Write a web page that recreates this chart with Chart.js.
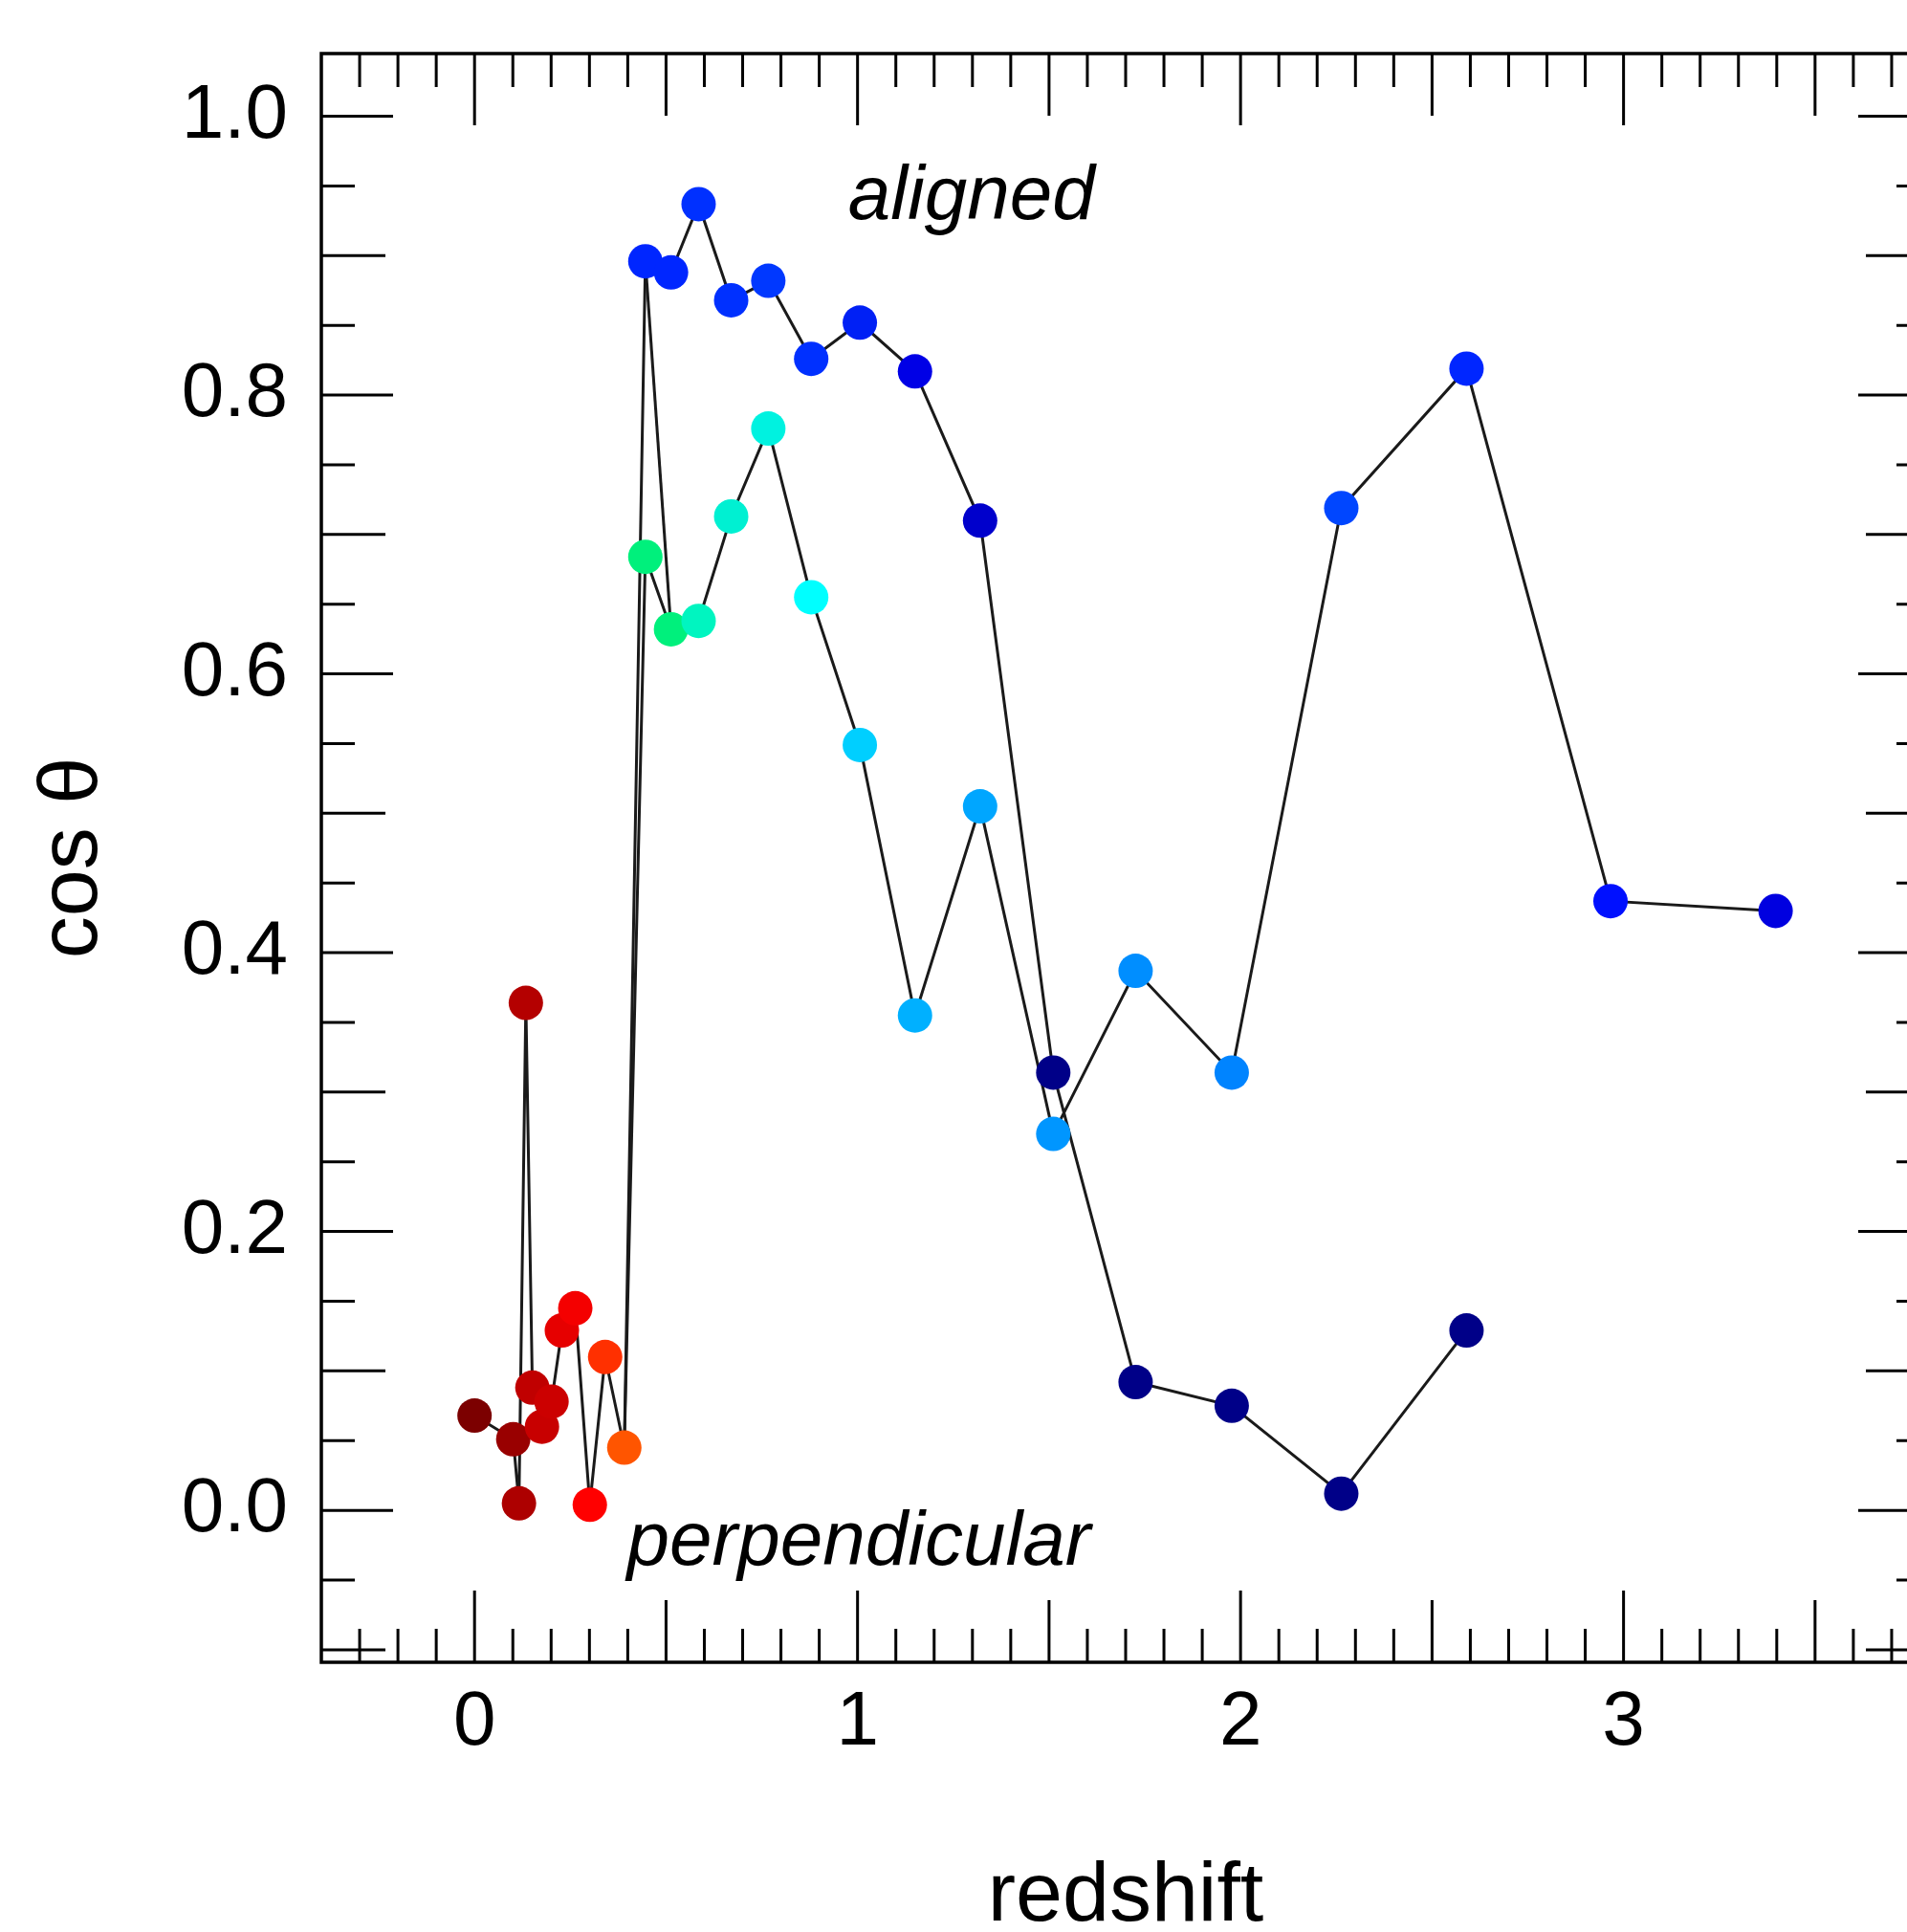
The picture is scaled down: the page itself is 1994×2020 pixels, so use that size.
<!DOCTYPE html>
<html lang="en">
<head>
    <meta charset="UTF-8">
    <title>cos theta vs redshift</title>
    <style>
        html, body { margin: 0; padding: 0; background: #fff; overflow: hidden; }
        #chart { display: block; }
    </style>
</head>
<body>
    <canvas id="chart" width="2040" height="2060"></canvas>

    <script src="https://cdn.jsdelivr.net/npm/chart.js"></script>
    <script>
        // single track at low redshift, before it splits in two
        const zMerged = [0.0, 0.101, 0.116, 0.134, 0.151, 0.176, 0.201, 0.228, 0.263, 0.301, 0.341, 0.391];
        const cosMerged = [0.068, 0.051, 0.005, 0.364, 0.088, 0.060, 0.078, 0.129, 0.145, 0.004, 0.110, 0.045];

        // the two branches share the same redshifts
        const zBranch = [0.446, 0.513, 0.585, 0.670, 0.767, 0.879, 1.006, 1.150, 1.320, 1.511, 1.726, 1.977, 2.263, 2.590, 2.966, 3.397];
        const cosLower = [0.684, 0.632, 0.638, 0.713, 0.776, 0.655, 0.549, 0.355, 0.505, 0.270, 0.387, 0.314, 0.719, 0.819, 0.437, 0.430];
        const cosUpper = [0.896, 0.888, 0.937, 0.868, 0.882, 0.826, 0.852, 0.817, 0.710, 0.314, 0.092, 0.075, 0.012, 0.129];

        const colMerged = ['#7c0000', '#990000', '#ad0000', '#b40000', '#c00000', '#c80000', '#cc0000', '#e60000', '#f40000', '#ff0000', '#ff3000', '#ff5500'];
        const colLower = ['#00f07c', '#00f07c', '#00f5c0', '#00f0d2', '#00f2e0', '#00ffff', '#00cfff', '#00b0ff', '#00a6ff', '#0096ff', '#008eff', '#0084ff', '#0046ff', '#0026ff', '#0010ff', '#0000e0'];
        const colUpper = ['#0026ff', '#0026ff', '#0030ff', '#0030ff', '#0038ff', '#0030ff', '#0020f5', '#0000e6', '#0000cc', '#000088', '#000088', '#000088', '#000088', '#000088'];

        const xTicks = [0, 1, 2, 3];
        const yTicks = [0.0, 0.2, 0.4, 0.6, 0.8, 1.0];

        const FONT = '"Liberation Sans", Arial, Helvetica, sans-serif';
        Chart.defaults.font.family = FONT;
        Chart.defaults.color = '#000';

        const merged = zMerged.map((z, i) => ({x: z, y: cosMerged[i]}));
        const lower = zBranch.map((z, i) => ({x: z, y: cosLower[i]}));
        const upper = cosUpper.map((c, i) => ({x: zBranch[i], y: c}));
        const split = merged[merged.length - 1];

        const lineStyle = {showLine: true, pointRadius: 0, borderColor: '#1a1a1a', borderWidth: 3, order: 10};
        const dotStyle = {showLine: false, pointRadius: 18, pointBorderWidth: 0};

        // inward ticks on all four sides, plus the frame and the two labels
        const frameTicks = {
            id: 'frameTicks',
            beforeDatasetsDraw(chart) {
                const {ctx, chartArea: a, scales: {x, y}} = chart;
                ctx.save();
                ctx.strokeStyle = '#000';
                ctx.lineWidth = 3.5;
                ctx.strokeRect(a.left, a.top, a.right - a.left, a.bottom - a.top);
                ctx.lineWidth = 3;
                ctx.beginPath();
                for (let i = Math.ceil(x.min * 10 + 1e-6); i <= Math.floor(x.max * 10 - 1e-6); i++) {
                    const px = x.getPixelForValue(i / 10);
                    const len = i % 10 === 0 ? 75 : (i % 5 === 0 ? 65 : 35);
                    ctx.moveTo(px, a.bottom); ctx.lineTo(px, a.bottom - len);
                    ctx.moveTo(px, a.top); ctx.lineTo(px, a.top + len);
                }
                for (let j = Math.ceil(y.min * 20 + 1e-6); j <= Math.floor(y.max * 20 - 1e-6); j++) {
                    const py = y.getPixelForValue(j / 20);
                    const len = j % 4 === 0 ? 75 : (j % 2 === 0 ? 67 : 35);
                    ctx.moveTo(a.left, py); ctx.lineTo(a.left + len, py);
                    ctx.moveTo(a.right, py); ctx.lineTo(a.right - len, py);
                }
                ctx.stroke();
                ctx.restore();
            },
            afterDatasetsDraw(chart) {
                const {ctx, scales: {x, y}} = chart;
                ctx.save();
                ctx.fillStyle = '#000';
                ctx.font = 'italic 80px ' + FONT;
                ctx.textAlign = 'left';
                ctx.textBaseline = 'alphabetic';
                ctx.fillText('aligned', x.getPixelForValue(0.975), y.getPixelForValue(0.926));
                ctx.fillText('perpendicular', x.getPixelForValue(0.398), y.getPixelForValue(-0.039));
                ctx.restore();
            }
        };

        new Chart(document.getElementById('chart'), {
            type: 'scatter',
            data: {
                datasets: [
                    {...lineStyle, data: merged},
                    {...lineStyle, data: [split, ...lower]},
                    {...lineStyle, data: [split, ...upper]},
                    {...lineStyle, data: [upper[0], lower[1]]},
                    {...dotStyle, data: merged, pointBackgroundColor: colMerged, order: 4},
                    {...dotStyle, data: lower, pointBackgroundColor: colLower, order: 3},
                    {...dotStyle, data: upper, pointBackgroundColor: colUpper, order: 2}
                ]
            },
            options: {
                responsive: false,
                animation: false,
                events: [],
                layout: {padding: {left: 0, top: 56, right: 22, bottom: 0}},
                plugins: {legend: {display: false}, tooltip: {enabled: false}},
                scales: {
                    x: {
                        type: 'linear',
                        min: -0.4,
                        max: 3.8,
                        grid: {display: false, drawTicks: false},
                        border: {display: false},
                        afterBuildTicks: s => { s.ticks = xTicks.map(v => ({value: v})); },
                        afterFit: s => { s.height = 322; s.paddingLeft = 0; s.paddingRight = 0; },
                        ticks: {font: {size: 80}, padding: 16, maxRotation: 0, callback: v => String(v)},
                        title: {display: true, text: 'redshift', font: {size: 88}, padding: {top: 0, bottom: 23}}
                    },
                    y: {
                        type: 'linear',
                        min: -0.109,
                        max: 1.045,
                        grid: {display: false, drawTicks: false},
                        border: {display: false},
                        afterBuildTicks: s => { s.ticks = yTicks.map(v => ({value: v})); },
                        afterFit: s => { s.width = 336; s.paddingTop = 0; s.paddingBottom = 0; },
                        ticks: {font: {size: 80}, padding: 35, callback: v => v.toFixed(1)},
                        title: {display: true, text: 'cos θ', font: {size: 88}, padding: {top: 24, bottom: 0}}
                    }
                }
            },
            plugins: [frameTicks]
        });
    </script>
</body>
</html>
